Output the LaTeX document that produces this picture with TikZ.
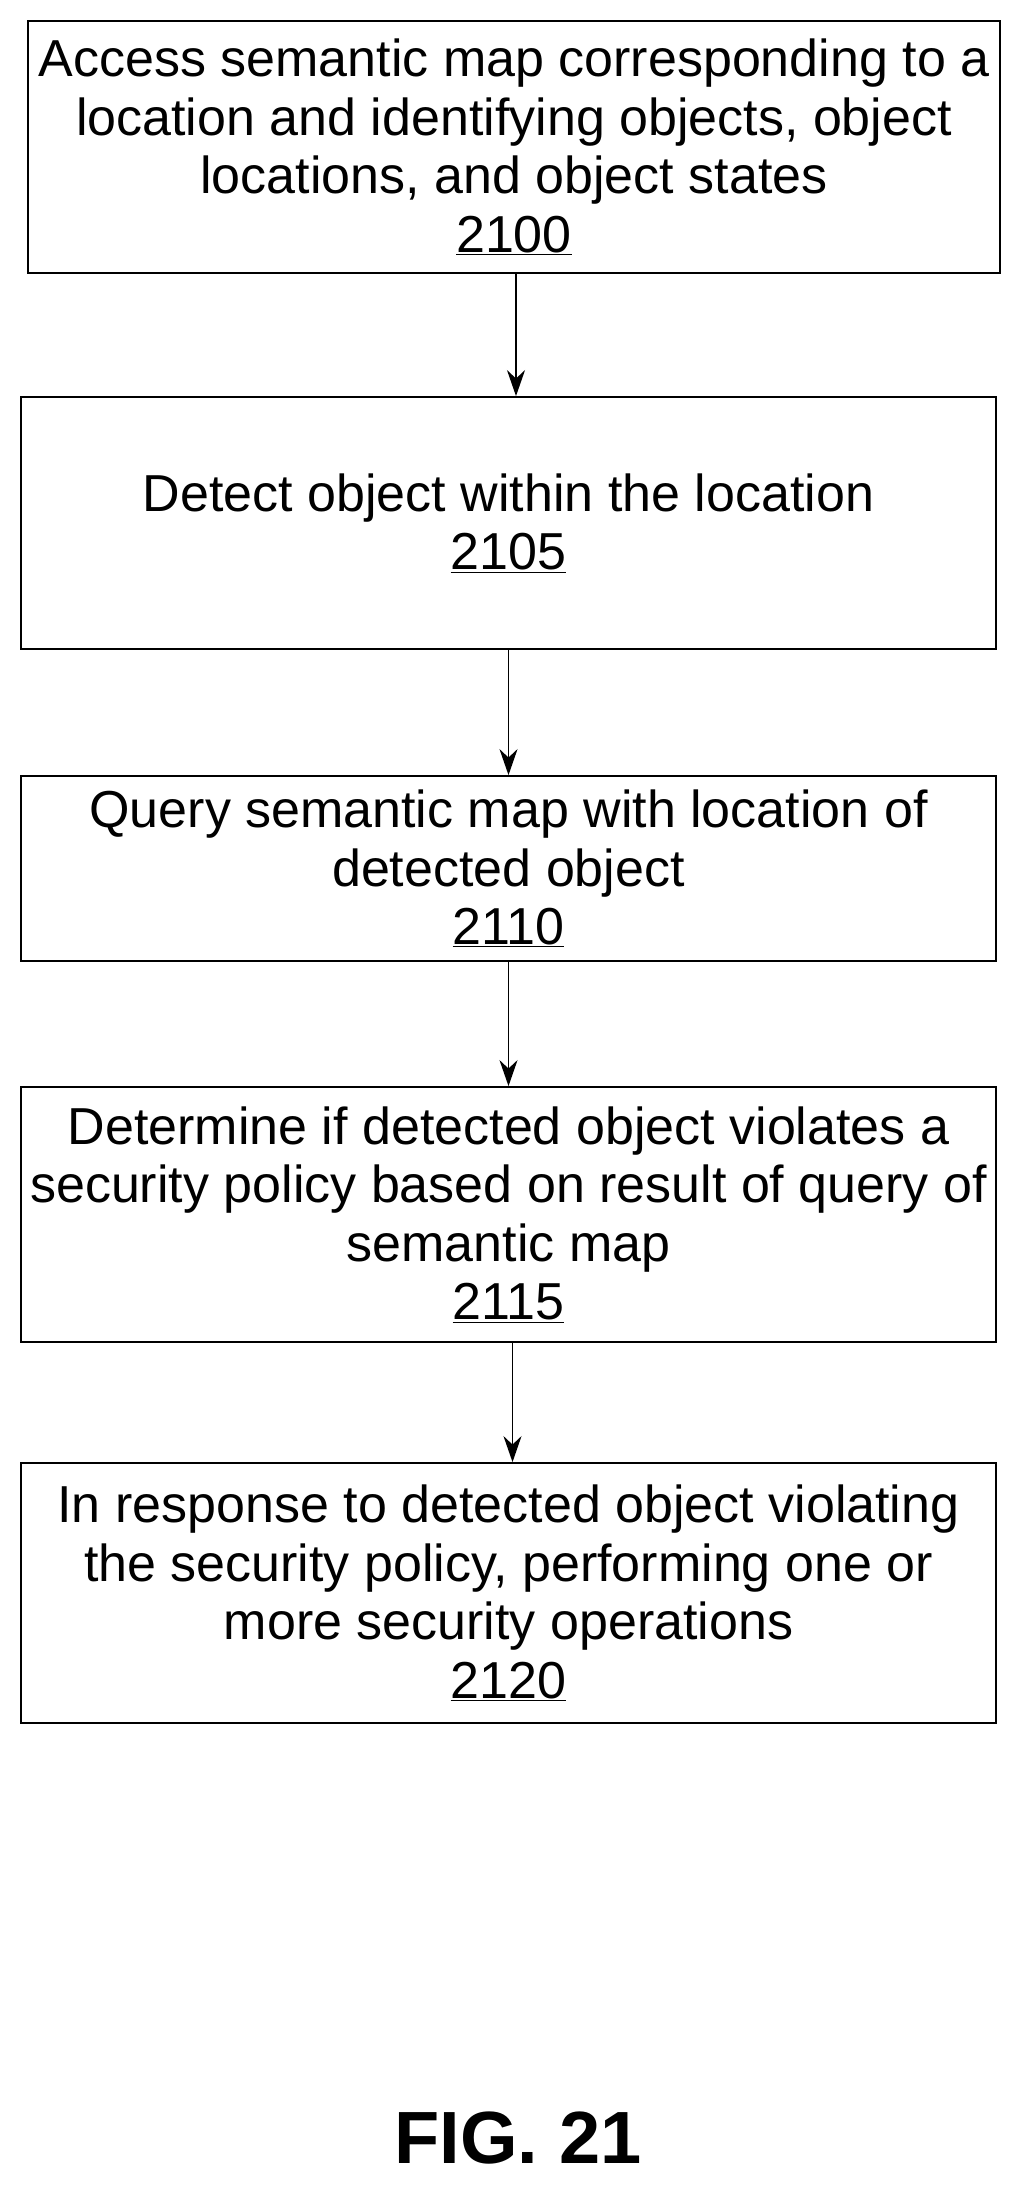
\documentclass[tikz,border=0pt]{standalone}
\usepackage{fontspec}
\setmainfont{Liberation Sans}
\usetikzlibrary{arrows.meta}
\begin{document}
\begin{tikzpicture}[x=1pt,y=-1pt,
  box/.style={draw,line width=1.8pt,inner sep=0pt,align=center,font=\fontsize{52}{58.5}\selectfont},
  arr/.style={-{Stealth[length=26pt,width=18pt]},line width=1.8pt}]
\useasboundingbox (0,0) rectangle (1024,2189);
\node[box,minimum width=972pt,minimum height=252pt] (b1) at (514,147) {Access semantic map corresponding to a\\location and identifying objects, object\\locations, and object states\\\underline{2100}};
\node[box,minimum width=975pt,minimum height=252pt] (b2) at (508.5,523) {Detect object within the location\\\underline{2105}};
\node[box,minimum width=975pt,minimum height=185pt] (b3) at (508.5,868.5) {Query semantic map with location of\\detected object\\\underline{2110}};
\node[box,minimum width=975pt,minimum height=255pt] (b4) at (508.5,1214.5) {Determine if detected object violates a\\security policy based on result of query of\\semantic map\\\underline{2115}};
\node[box,minimum width=975pt,minimum height=260pt] (b5) at (508.5,1593) {In response to detected object violating\\the security policy, performing one or\\more security operations\\\underline{2120}};
\node[font=\fontsize{74}{88}\selectfont\bfseries] (fig) at (518,2138) {FIG. 21};
\draw[arr] (b1.south) ++(2,0) coordinate (a1) -- (a1 |- b2.north);
\draw[arr] (b2.south) -- (b3.north);
\draw[arr] (b3.south) -- (b4.north);
\draw[arr] (b4.south) ++(4,0) coordinate (a4) -- (a4 |- b5.north);
\end{tikzpicture}
\end{document}
